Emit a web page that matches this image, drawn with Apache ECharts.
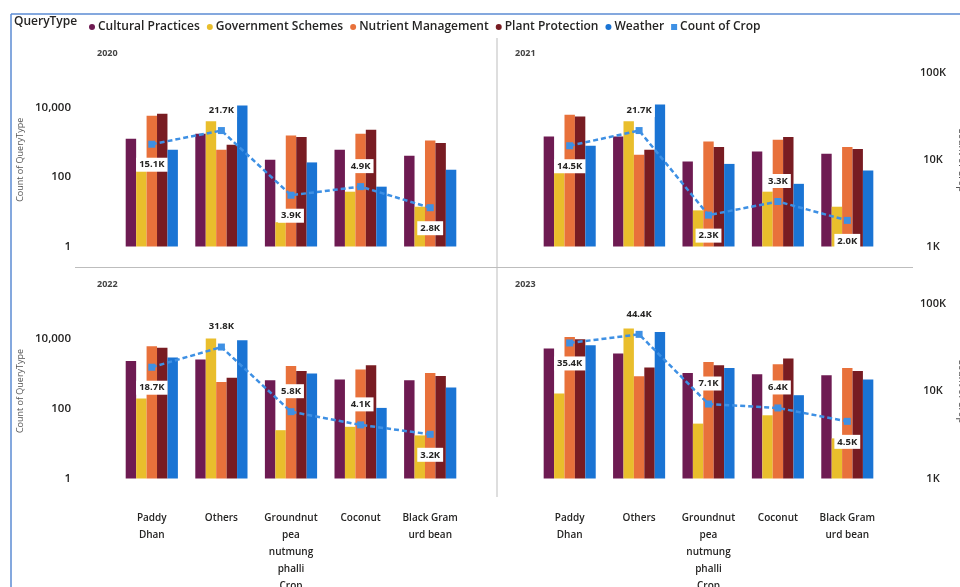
<!DOCTYPE html>
<html>
<head>
<meta charset="utf-8">
<script src="https://cdn.jsdelivr.net/npm/echarts@6/dist/echarts.min.js"></script>
<style>
  html, body { margin: 0; padding: 0; background: #fff; }
  #chart { width: 960px; height: 587px; }
</style>
</head>
<body>
<div id="chart"></div>
<script>
// Crops on the x axis, one small-multiple panel per year
const categories = ['Paddy\nDhan', 'Others', 'Groundnut\npea\nnutmung\nphalli\nCrop', 'Coconut', 'Black Gram\nurd bean'];
const years = ['2020', '2021', '2022', '2023'];

// Count of QueryType per crop, one row per year (2020..2023)
const culturalPractices = [
  [1280, 1780, 316, 615, 415],
  [1490, 1490, 282, 550, 470],
  [2290, 2500, 645, 675, 645],
  [5200, 3750, 1040, 955, 890]
];
const governmentSchemes = [
  [150, 4050, 5, 38, 14],
  [133, 4050, 11, 38, 14],
  [193, 10000, 24, 30, 17],
  [270, 19300, 37, 64, 14]
];
const nutrientManagement = [
  [5900, 615, 1590, 1780, 1140],
  [6300, 440, 1070, 1200, 740],
  [6000, 575, 1650, 1300, 1040],
  [11000, 840, 2140, 1850, 1440]
];
const plantProtection = [
  [6700, 850, 1440, 2330, 960],
  [5600, 615, 740, 1440, 645],
  [5400, 750, 1180, 1730, 855],
  [9500, 1480, 1730, 2690, 1170]
];
const weather = [
  [615, 11500, 265, 53, 163],
  [800, 12300, 240, 64, 155],
  [2870, 8900, 1000, 104, 400],
  [6400, 15400, 1440, 240, 675]
];
// Count of Crop (secondary axis line)
const countOfCrop = [
  [15100, 21700, 3900, 4900, 2800],
  [14500, 21700, 2300, 3300, 2000],
  [18700, 31800, 5800, 4100, 3200],
  [35400, 44400, 7100, 6400, 4500]
];
// Tick labels
const leftTicks = ['1', '100', '10,000'];
const rightTicks = ['1K', '10K', '100K'];

// Where each line label sits relative to its point
const labelSide = [
  ['bottom', 'top', 'bottom', 'top', 'bottom'],
  ['bottom', 'top', 'bottom', 'top', 'bottom'],
  ['bottom', 'top', 'top', 'top', 'bottom'],
  ['bottom', 'top', 'top', 'top', 'bottom']
];

const FONT = '"Open Sans", "Noto Sans", sans-serif';
const TEXT = '#252423';

const barSets = [
  { name: 'Cultural Practices', data: culturalPractices, color: '#6E1B52' },
  { name: 'Government Schemes', data: governmentSchemes, color: '#E9BE2C' },
  { name: 'Nutrient Management', data: nutrientManagement, color: '#E8713B' },
  { name: 'Plant Protection', data: plantProtection, color: '#781C22' },
  { name: 'Weather', data: weather, color: '#1A74D4' }
];
const lineColor = '#3E90E4';

const panels = [
  { left: 117, top: 73, width: 348, height: 173.5 },
  { left: 535, top: 73, width: 347, height: 173.5 },
  { left: 117, top: 303.5, width: 348, height: 175 },
  { left: 535, top: 303.5, width: 347, height: 175 }
];

const grid = [], xAxis = [], yAxis = [], series = [], title = [];

panels.forEach((p, i) => {
  const isLeft = i % 2 === 0;
  const isBottom = i >= 2;
  grid.push({
    left: p.left, top: p.top, width: p.width, height: p.height,
    containLabel: false, outerBoundsMode: 'none'
  });
  title.push({
    text: years[i],
    left: p.left - 25, top: p.top - 29,
    textStyle: { fontFamily: FONT, fontSize: 9, fontWeight: 'bold', color: '#444' }
  });
  xAxis.push({
    type: 'category', gridIndex: i, data: categories,
    axisLine: { show: false }, axisTick: { show: false }, splitLine: { show: false },
    axisLabel: {
      show: isBottom, interval: 0, margin: 31,
      fontFamily: FONT, fontSize: 10, fontWeight: 600, lineHeight: 17, color: TEXT
    }
  });
  // Primary log axis: Count of QueryType
  yAxis.push({
    type: 'log', logBase: 10, gridIndex: i, min: 1, max: 100000,
    name: isLeft ? 'Count of QueryType' : '',
    nameLocation: 'middle', nameGap: 92,
    nameTextStyle: { fontFamily: FONT, fontSize: 9, color: '#555' },
    axisLine: { show: false }, axisTick: { show: false }, splitLine: { show: false },
    axisLabel: {
      show: isLeft, margin: 46, fontFamily: FONT, fontSize: 11.5, fontWeight: 600, color: TEXT,
      formatter: v => {
        const e = Math.round(Math.log10(v));
        return (e % 2 === 0 && e <= 4) ? leftTicks[e / 2] : '';
      }
    }
  });
  // Secondary log axis: Count of Crop
  yAxis.push({
    type: 'log', logBase: 10, gridIndex: i, min: 1000, max: 100000, position: 'right',
    name: isLeft ? '' : 'Count of Crop',
    nameLocation: 'middle', nameGap: 75, nameRotate: -90,
    nameTextStyle: { fontFamily: FONT, fontSize: 10, color: '#555' },
    axisLine: { show: false }, axisTick: { show: false }, splitLine: { show: false },
    axisLabel: {
      show: !isLeft, margin: 51, align: 'center',
      fontFamily: FONT, fontSize: 11, fontWeight: 600, color: TEXT,
      formatter: v => rightTicks[Math.round(Math.log10(v)) - 3] || ''
    }
  });

  barSets.forEach(b => {
    series.push({
      name: b.name, type: 'bar', xAxisIndex: i, yAxisIndex: 2 * i,
      data: b.data[i], barGap: '0%', barCategoryGap: '25%',
      itemStyle: { color: b.color }, z: 2
    });
  });

  series.push({
    name: 'Count of Crop', type: 'line', xAxisIndex: i, yAxisIndex: 2 * i + 1,
    data: countOfCrop[i].map((v, k) => ({ value: v, label: { position: labelSide[i][k] } })),
    symbol: 'rect', symbolSize: 7,
    itemStyle: { color: lineColor },
    lineStyle: { color: lineColor, width: 2.5, type: [5, 3] },
    z: 5,
    label: {
      show: true, distance: 10,
      formatter: p => (p.value / 1000).toFixed(1) + 'K',
      backgroundColor: '#fff', padding: [2, 3],
      fontFamily: FONT, fontSize: 9.5, fontWeight: 'bold', color: TEXT
    }
  });
});

const legendNames = barSets.map(b => b.name).concat('Count of Crop');

const option = {
  animation: false,
  backgroundColor: '#fff',
  title,
  grid, xAxis, yAxis, series,
  legend: {
    left: 84, top: 16, itemGap: 7, itemWidth: 6, itemHeight: 6,
    data: legendNames.map(n => ({ name: n, icon: n === 'Count of Crop' ? 'rect' : 'circle' })),
    textStyle: { fontFamily: FONT, fontSize: 12, fontWeight: 600, color: TEXT, padding: [0, 0, 0, -2] }
  },
  graphic: [
    { type: 'text', left: 14, top: 16,
      style: { text: 'QueryType', fontFamily: FONT, fontSize: 12, fontWeight: 600, fill: TEXT } },
    // frame edges
    { type: 'line', shape: { x1: 11, y1: 14, x2: 960, y2: 14 }, style: { stroke: '#5B8BD3', lineWidth: 1.5 } },
    { type: 'line', shape: { x1: 11, y1: 14, x2: 11, y2: 587 }, style: { stroke: '#5B8BD3', lineWidth: 1.5 } },
    // panel separators
    { type: 'line', shape: { x1: 75, y1: 267.5, x2: 913, y2: 267.5 }, style: { stroke: '#BDBDBD', lineWidth: 1 } },
    { type: 'line', shape: { x1: 497, y1: 38, x2: 497, y2: 497 }, style: { stroke: '#BDBDBD', lineWidth: 1 } }
  ]
};

echarts.init(document.getElementById('chart'), null, { renderer: 'canvas' }).setOption(option);
</script>
</body>
</html>
